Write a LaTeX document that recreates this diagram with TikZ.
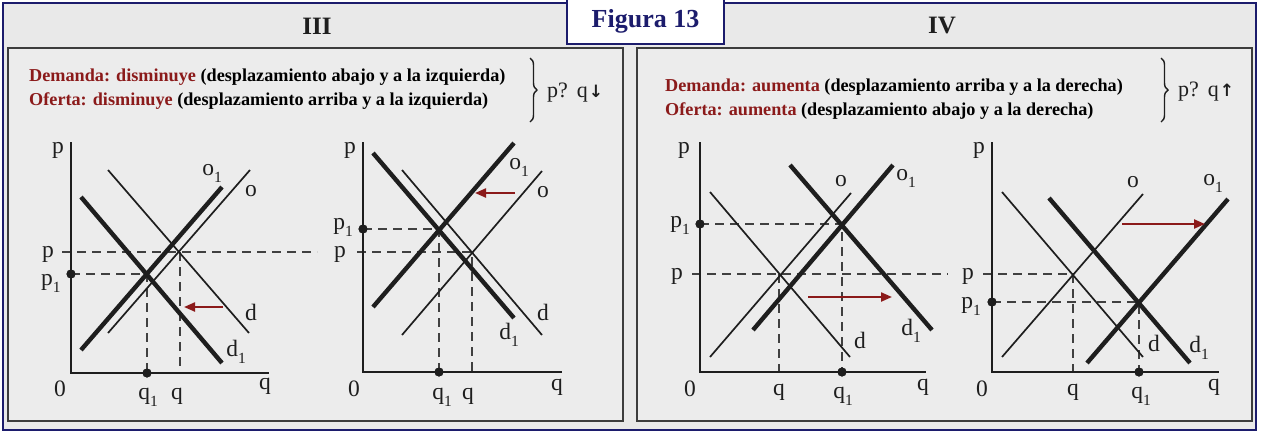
\documentclass[tikz,border=0pt]{standalone}
\usepackage{fontspec}
\setmainfont{Liberation Serif}
\newfontfamily\dejavu{DejaVu Sans}
\usetikzlibrary{arrows.meta,decorations.pathreplacing}
\definecolor{bgc}{HTML}{E9E9E9}
\definecolor{boxbg}{HTML}{ECECEC}
\definecolor{navy}{HTML}{1C1C6C}
\definecolor{dred}{HTML}{8B1A1A}
\definecolor{boxline}{HTML}{3C3C3C}
\definecolor{ink}{HTML}{1E1E1E}
\newcommand\sbs[1]{\raisebox{-0.3em}{\fontsize{15.5}{15.5}\selectfont #1}}
\begin{document}
\begin{tikzpicture}[x=1pt,y=-1pt,
 axis/.style={line width=2.6pt, draw=ink},
 thinln/.style={line width=1.7pt, draw=ink},
 thickln/.style={line width=4.4pt, draw=ink},
 dashln/.style={line width=1.3pt, draw=ink!85, dash pattern=on 9pt off 6pt},
 shiftarrow/.style={line width=2.2pt, draw=dred, -{Triangle[length=11pt,width=9pt]}},
 lbl/.style={inner sep=0pt, text=ink, font=\fontsize{23.5}{23.5}\selectfont},
 dotm/.style={circle, fill=ink, inner sep=0pt, minimum size=9pt},
 txt/.style={inner sep=0pt, anchor=west, text=black, font=\bfseries\fontsize{18.2}{18.2}\selectfont},
 ttl/.style={inner sep=0pt, text=ink, font=\bfseries\fontsize{25}{25}\selectfont},
 bracest/.style={decorate, decoration={brace, amplitude=7pt}, line width=1.4pt, draw=ink},
 res/.style={inner sep=0pt, text=ink, font=\fontsize{22}{22}\selectfont},
 figbox/.style={draw=navy, line width=1.5pt, fill=white, minimum width=157pt, minimum height=46pt, inner sep=0pt, text=navy, font=\bfseries\fontsize{26}{26}\selectfont},
 panel/.style={draw=boxline, line width=1.8pt, fill=boxbg}
]
\useasboundingbox (0,0) rectangle (1262,432);
\fill[white] (0,0) rectangle (1262,432);
\draw[navy, line width=1.5pt, fill=bgc] (3,3) rectangle (1256,430);
\draw[panel] (8,48) rectangle (623,421);
\draw[panel] (637,48) rectangle (1252,421);
\node[figbox] (fig) at (645.5,21) {Figura 13};
\node[ttl] (t3) at (317,26) {III};
\node[ttl] (t4) at (942,26) {IV};

% ---- texts III
\node[txt] (t3a) at (29,77) {\textcolor{dred}{Demanda: disminuye} (desplazamiento abajo y a la izquierda)};
\node[txt] (t3b) at (29,101) {\textcolor{dred}{Oferta: disminuye} (desplazamiento arriba y a la izquierda)};
\coordinate (b3t) at (530,58); \coordinate (b3b) at (530,122);
\draw[bracest] (b3t) -- (b3b);
\node[res, anchor=west] (r3) at (547,93) {p?\hspace{9pt}q\hspace{1pt}{\dejavu\bfseries\fontsize{17}{17}\selectfont ↓}};
% ---- texts IV
\node[txt] (t4a) at (665,87) {\textcolor{dred}{Demanda: aumenta} (desplazamiento arriba y a la derecha)};
\node[txt] (t4b) at (665,111) {\textcolor{dred}{Oferta: aumenta} (desplazamiento abajo y a la derecha)};
\coordinate (b4t) at (1161,58); \coordinate (b4b) at (1161,122);
\draw[bracest] (b4t) -- (b4b);
\node[res, anchor=west] (r4) at (1178,92) {p?\hspace{9pt}q\hspace{1pt}{\dejavu\bfseries\fontsize{17}{17}\selectfont ↑}};

% ================= Graph 1
\coordinate (aO) at (71,373); \coordinate (aY) at (71,142); \coordinate (aX) at (269,373);
\coordinate (aE) at (180,252); \coordinate (aE1) at (147,274);
\coordinate (apL) at (62,252); \coordinate (apR) at (317,252);
\coordinate (aqB) at (180,373);
\node[dotm] (ap1d) at (71,274) {};
\node[dotm] (aq1d) at (147,373) {};
\draw[dashln] (apL) -- (apR);
\draw[dashln] (aE) -- (aqB);
\draw[dashln] (ap1d.center) -- (aE1) -- (aq1d.center);
\coordinate (aos) at (108,333); \coordinate (aoe) at (250,170);
\coordinate (ads) at (108,170); \coordinate (ade) at (249,333);
\coordinate (ao1s) at (81,350); \coordinate (ao1e) at (222,187);
\coordinate (ad1s) at (81,197); \coordinate (ad1e) at (222,363);
\draw[thinln] (aos) -- (aoe);
\draw[thinln] (ads) -- (ade);
\draw[thickln] (ao1s) -- (ao1e);
\draw[thickln] (ad1s) -- (ad1e);
\draw[axis] (aY) -- (aO) -- (aX);
\node[dotm] at (ap1d) {};
\node[dotm] at (aq1d) {};
\coordinate (aas) at (223,307); \coordinate (aae) at (184,307);
\draw[shiftarrow] (aas) -- (aae);
\node[lbl] (alp) at (58,150) {p};
\node[lbl] (alq) at (265,386) {q};
\node[lbl] (al0) at (60,389) {0};
\node[lbl] (alpp) at (48,254) {p};
\node[lbl] (alp1) at (51,283) {p\sbs{1}};
\node[lbl] (alq1) at (148,397) {q\sbs{1}};
\node[lbl] (alqq) at (177,396) {q};
\node[lbl] (alo1) at (212,173) {o\sbs{1}};
\node[lbl] (alo) at (251,191) {o};
\node[lbl] (ald) at (251,312) {d};
\node[lbl] (ald1) at (236,352) {d\sbs{1}};

% ================= Graph 2
\coordinate (bO) at (363,372); \coordinate (bY) at (363,142); \coordinate (bX) at (562,372);
\coordinate (bE) at (472,252); \coordinate (bE1) at (439,229);
\coordinate (bpL) at (357,252); \coordinate (bqB) at (472,372);
\node[dotm] (bp1d) at (363,229) {};
\node[dotm] (bq1d) at (439,372) {};
\draw[dashln] (bpL) -- (bE) -- (bqB);
\draw[dashln] (bp1d.center) -- (bE1) -- (bq1d.center);
\coordinate (bos) at (402,335); \coordinate (boe) at (542,171);
\coordinate (bds) at (402,170); \coordinate (bde) at (542,335);
\coordinate (bo1s) at (373,307); \coordinate (bo1e) at (514,143);
\coordinate (bd1s) at (373,153); \coordinate (bd1e) at (514,318);
\draw[thinln] (bos) -- (boe);
\draw[thinln] (bds) -- (bde);
\draw[thickln] (bo1s) -- (bo1e);
\draw[thickln] (bd1s) -- (bd1e);
\draw[axis] (bY) -- (bO) -- (bX);
\node[dotm] at (bp1d) {};
\node[dotm] at (bq1d) {};
\coordinate (bas) at (515,193); \coordinate (bae) at (475,193);
\draw[shiftarrow] (bas) -- (bae);
\node[lbl] (blp) at (350,150) {p};
\node[lbl] (blq) at (557,387) {q};
\node[lbl] (bl0) at (354,389) {0};
\node[lbl] (blpp) at (340,254) {p};
\node[lbl] (blp1) at (343,227) {p\sbs{1}};
\node[lbl] (blq1) at (442,397) {q\sbs{1}};
\node[lbl] (blqq) at (468,396) {q};
\node[lbl] (blo1) at (519,167) {o\sbs{1}};
\node[lbl] (blo) at (543,192) {o};
\node[lbl] (bld) at (543,312) {d};
\node[lbl] (bld1) at (509,335) {d\sbs{1}};

% ================= Graph 3
\coordinate (cO) at (700,372); \coordinate (cY) at (700,142); \coordinate (cX) at (926,372);
\coordinate (cE) at (779,274); \coordinate (cE1) at (842,224);
\coordinate (cpL) at (692,274); \coordinate (cpR) at (948,274);
\coordinate (cqB) at (779,372);
\node[dotm] (cp1d) at (700,224) {};
\node[dotm] (cq1d) at (842,372) {};
\draw[dashln] (cpL) -- (cpR);
\draw[dashln] (cE) -- (cqB);
\draw[dashln] (cp1d.center) -- (cE1) -- (cq1d.center);
\coordinate (cds) at (710,192); \coordinate (cde) at (850,357);
\coordinate (cos) at (710,357); \coordinate (coe) at (851,193);
\coordinate (co1s) at (753,330); \coordinate (co1e) at (893,165);
\coordinate (cd1s) at (790,165); \coordinate (cd1e) at (932,330);
\draw[thinln] (cos) -- (coe);
\draw[thinln] (cds) -- (cde);
\draw[thickln] (co1s) -- (co1e);
\draw[thickln] (cd1s) -- (cd1e);
\draw[axis] (cY) -- (cO) -- (cX);
\node[dotm] at (cp1d) {};
\node[dotm] at (cq1d) {};
\coordinate (cas) at (808,297); \coordinate (cae) at (892,297);
\draw[shiftarrow] (cas) -- (cae);
\node[lbl] (clp) at (684,150) {p};
\node[lbl] (clq) at (923,387) {q};
\node[lbl] (cl0) at (690,389) {0};
\node[lbl] (clpp) at (677,276) {p};
\node[lbl] (clp1) at (680,225) {p\sbs{1}};
\node[lbl] (clqq) at (779,392) {q};
\node[lbl] (clq1) at (843,396) {q\sbs{1}};
\node[lbl] (clo) at (841,181) {o};
\node[lbl] (clo1) at (906,178) {o\sbs{1}};
\node[lbl] (cld) at (860,340) {d};
\node[lbl] (cld1) at (911,331) {d\sbs{1}};

% ================= Graph 4
\coordinate (dO) at (992,372); \coordinate (dY) at (992,142); \coordinate (dX) at (1219,372);
\coordinate (dE) at (1073,274); \coordinate (dE1) at (1139,302);
\coordinate (dpL) at (983,274); \coordinate (dqB) at (1073,372);
\node[dotm] (dp1d) at (992,302) {};
\node[dotm] (dq1d) at (1139,372) {};
\draw[dashln] (dpL) -- (dE) -- (dqB);
\draw[dashln] (dp1d.center) -- (dE1) -- (dq1d.center);
\coordinate (dds) at (1002,192); \coordinate (dde) at (1143,357);
\coordinate (dos) at (1002,357); \coordinate (doe) at (1143,194);
\coordinate (dd1s) at (1049,198); \coordinate (dd1e) at (1190,363);
\coordinate (do1s) at (1087,363); \coordinate (do1e) at (1228,199);
\draw[thinln] (dos) -- (doe);
\draw[thinln] (dds) -- (dde);
\draw[thickln] (do1s) -- (do1e);
\draw[thickln] (dd1s) -- (dd1e);
\draw[axis] (dY) -- (dO) -- (dX);
\node[dotm] at (dp1d) {};
\node[dotm] at (dq1d) {};
\coordinate (das) at (1122,224); \coordinate (dae) at (1205,224);
\draw[shiftarrow] (das) -- (dae);
\node[lbl] (dlp) at (979,150) {p};
\node[lbl] (dlq) at (1214,387) {q};
\node[lbl] (dl0) at (982,389) {0};
\node[lbl] (dlpp) at (968,276) {p};
\node[lbl] (dlp1) at (971,306) {p\sbs{1}};
\node[lbl] (dlqq) at (1073,392) {q};
\node[lbl] (dlq1) at (1141,396) {q\sbs{1}};
\node[lbl] (dlo) at (1133,182) {o};
\node[lbl] (dlo1) at (1213,183) {o\sbs{1}};
\node[lbl] (dld) at (1154,343) {d};
\node[lbl] (dld1) at (1199,348) {d\sbs{1}};
\end{tikzpicture}
\end{document}
